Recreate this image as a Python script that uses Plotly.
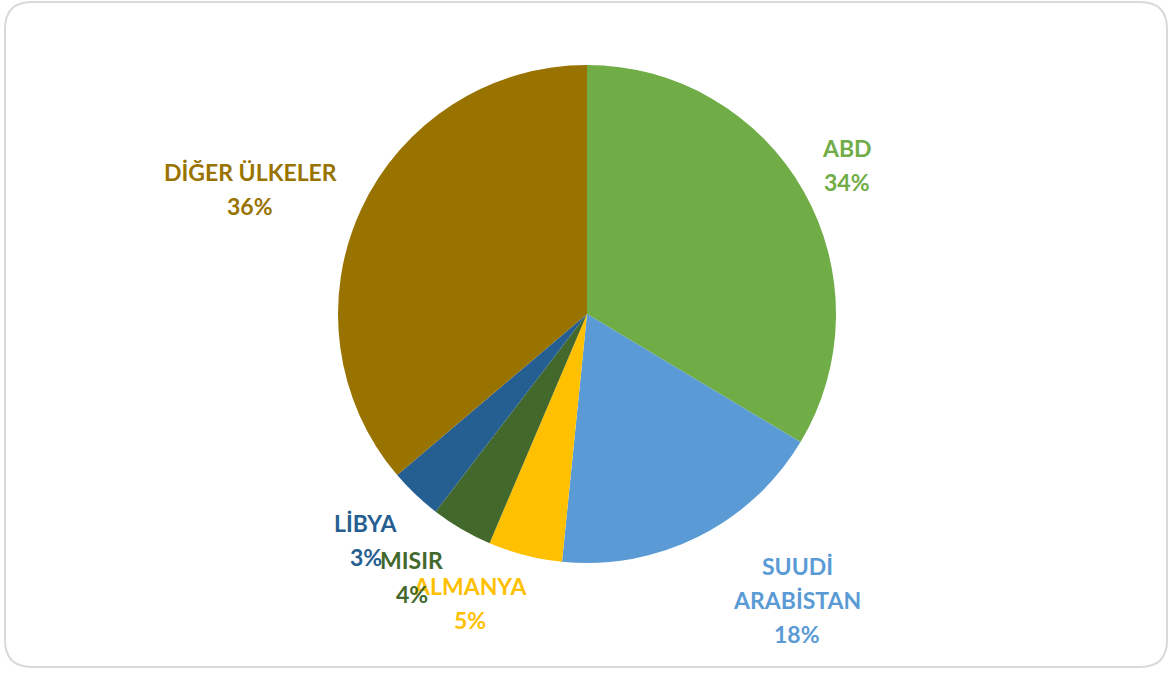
import math
import plotly.graph_objects as go

# ---- data ----
countries = ["ABD", "SUUDİ<br>ARABİSTAN", "ALMANYA", "MISIR", "LİBYA", "DİĞER ÜLKELER"]
shares = [33.6, 18.0, 4.8, 4.0, 3.4, 36.2]
colors = ["#70AD47", "#5B9BD5", "#FFC000", "#43682B", "#255E91", "#997300"]

W, H = 1173, 675
CX, CY, R = 587, 314, 249  # pie centre / radius in px
LINE_H = 34  # px between label lines

# label placement (radial factor, angle nudge in degrees)
label_style = [(1.204, -0.3), (1.425, -9.7), (1.252, 7.6), (1.269, 3.4), (1.269, 0.8), (1.443, -4.4)]

fig = go.Figure(go.Pie(
    labels=[c.replace("<br>", " ") for c in countries],
    values=shares,
    marker=dict(colors=colors, line=dict(color="white", width=0)),
    sort=False,
    direction="clockwise",
    rotation=0,
    textinfo="none",
    hoverinfo="label+percent",
    showlegend=False,
    domain=dict(x=[(CX - R) / W, (CX + R) / W], y=[1 - (CY + R) / H, 1 - (CY - R) / H]),
))

total = sum(shares)
annotations = []
cum = 0.0
for name, v, c, (rf, nudge) in zip(countries, shares, colors, label_style):
    mid = (cum + v / 2) / total * 360 + nudge
    cum += v
    a = math.radians(mid)
    px = CX + rf * R * math.sin(a)
    py = CY - rf * R * math.cos(a)
    pct = round(v / total * 100)
    lines = name.split("<br>") + [f"{pct}%"]
    n = len(lines)
    for i, line in enumerate(lines):
        annotations.append(dict(
            x=px / W, y=1 - py / H, xref="paper", yref="paper",
            yshift=((n - 1) / 2 - i) * LINE_H,
            text=line, showarrow=False,
            xanchor="center", yanchor="middle", align="center",
            font=dict(family="Lato", size=23, color=c, weight="bold"),
        ))

# rounded frame
x0, x1, y0, y1 = 5 / W, 1167 / W, 1 - 667 / H, 1 - 2 / H
rx, ry = 27 / W, 27 / H
path = (f"M {x0+rx},{y1} L {x1-rx},{y1} Q {x1},{y1} {x1},{y1-ry} "
        f"L {x1},{y0+ry} Q {x1},{y0} {x1-rx},{y0} L {x0+rx},{y0} "
        f"Q {x0},{y0} {x0},{y0+ry} L {x0},{y1-ry} Q {x0},{y1} {x0+rx},{y1} Z")

fig.update_layout(
    width=W, height=H,
    margin=dict(l=0, r=0, t=0, b=0),
    paper_bgcolor="white", plot_bgcolor="white",
    annotations=annotations,
    shapes=[dict(type="path", path=path, xref="paper", yref="paper",
                 line=dict(color="#D9D9D9", width=2), fillcolor="rgba(0,0,0,0)", layer="below")],
)

fig.write_html("out.html", config={"displayModeBar": False},
               post_script="document.body.style.margin='0';document.body.style.overflow='hidden';")
